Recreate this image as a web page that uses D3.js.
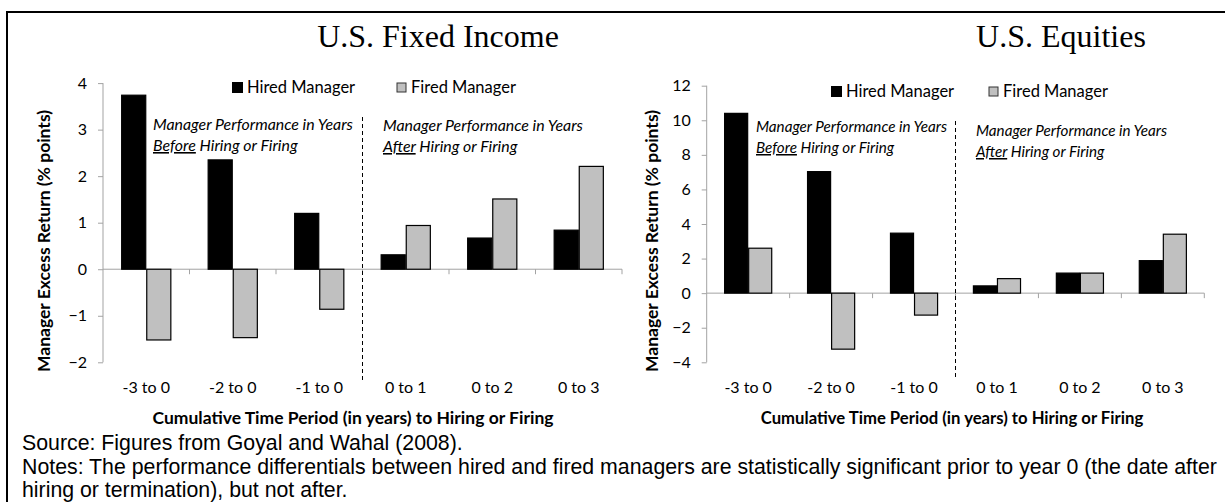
<!DOCTYPE html>
<meta charset="utf-8">
<style>
  body { margin: 0; background: #fff; }
  svg text { fill: #000; }
</style>
<svg width="1225" height="502"></svg>
<script src="https://d3js.org/d3.v7.min.js"></script>
<script>

    // values
    var categories = ["-3 to 0", "-2 to 0", "-1 to 0", "0 to 1", "0 to 2", "0 to 3"];
    var seriesNames = ["Hired Manager", "Fired Manager"];

    var fixedHired = [3.74, 2.35, 1.20, 0.31, 0.67, 0.84];
    var fixedFired = [-1.52, -1.47, -0.86, 0.94, 1.51, 2.21];
    var fixedTicks = [-2, -1, 0, 1, 2, 3, 4];

    var equityHired = [10.40, 7.03, 3.47, 0.42, 1.16, 1.88];
    var equityFired = [2.60, -3.24, -1.27, 0.84, 1.16, 3.41];
    var equityTicks = [-4, -2, 0, 2, 4, 6, 8, 10, 12];

    var noteLines = [
        "Source: Figures from Goyal and Wahal (2008).",
        "Notes: The performance differentials between hired and fired managers are statistically significant prior to year 0 (the date after",
        "hiring or termination), but not after."
    ];

    var svg = d3.select("svg");
    var sans = "Lato, 'Open Sans', sans-serif";
    var axisGray = "#a3a3a3";

    // outer frame, open on the right and bottom
    svg.append("path")
        .attr("d", "M7,503V12H1226")
        .attr("fill", "none")
        .attr("stroke", "#000")
        .attr("stroke-width", 2);

    function panel(o) {
        var x = d3.scaleBand()
            .domain(categories)
            .range([o.left, o.right])
            .paddingInner(0.42)
            .paddingOuter(0.21);

        var xs = d3.scaleBand()
            .domain(seriesNames)
            .range([0, x.bandwidth()]);

        var y = d3.scaleLinear()
            .domain(o.domain)
            .range([o.bottom, o.top]);

        var g = svg.append("g");

        // title
        g.append("text")
            .attr("x", o.titleX)
            .attr("y", 47)
            .attr("text-anchor", "middle")
            .style("font-family", "'Liberation Serif', 'Times New Roman', serif")
            .style("font-size", "32px")
            .text(o.title);

        // y axis
        var yAxis = d3.axisLeft(y).tickValues(o.ticks).tickSize(5).tickPadding(11).tickFormat(d3.format("d"));
        var ya = g.append("g")
            .attr("transform", "translate(" + o.left + ",0)")
            .call(yAxis);
        ya.select(".domain").attr("stroke", axisGray).attr("d", "M0," + o.bottom + "V" + o.top);
        ya.selectAll(".tick line").attr("stroke", axisGray);
        ya.selectAll(".tick text")
            .style("font-family", sans)
            .style("font-size", "16px")
            .attr("fill", "#000");

        // x axis at zero, ticks between categories
        var step = x.step();
        var bounds = d3.range(categories.length + 1).map(function (i) { return o.left + i * step; });
        g.append("line")
            .attr("x1", o.left).attr("x2", o.right)
            .attr("y1", y(0)).attr("y2", y(0))
            .attr("stroke", axisGray);
        g.selectAll(".xtick")
            .data(bounds.slice(1))
            .enter().append("line")
            .attr("x1", function (d) { return d; }).attr("x2", function (d) { return d; })
            .attr("y1", y(0)).attr("y2", y(0) + 5)
            .attr("stroke", axisGray);

        // category labels below the plot
        g.selectAll(".xlab")
            .data(categories)
            .enter().append("text")
            .attr("x", function (d) { return x(d) + x.bandwidth() / 2; })
            .attr("y", 393)
            .attr("text-anchor", "middle")
            .style("font-family", sans)
            .style("font-size", "16px")
            .text(function (d) { return d; });

        // bars
        var rows = categories.map(function (c, i) {
            return [
                {cat: c, name: seriesNames[0], v: o.hired[i]},
                {cat: c, name: seriesNames[1], v: o.fired[i]}
            ];
        });
        g.selectAll(".grp")
            .data(rows)
            .enter().append("g")
            .attr("transform", function (d) { return "translate(" + x(d[0].cat) + ",0)"; })
            .selectAll("rect")
            .data(function (d) { return d; })
            .enter().append("rect")
            .attr("x", function (d) { return xs(d.name) + 0.5; })
            .attr("y", function (d) { return Math.min(y(d.v), y(0)); })
            .attr("width", xs.bandwidth() - 1)
            .attr("height", function (d) { return Math.abs(y(d.v) - y(0)); })
            .attr("fill", function (d) { return d.name === seriesNames[0] ? "#000" : "#c0c0c0"; })
            .attr("stroke", "#000")
            .attr("stroke-width", 1.2);

        // before / after divider
        var divX = x(categories[3]) - x.step() * 0.21;
        g.append("line")
            .attr("x1", divX).attr("x2", divX)
            .attr("y1", o.divTop).attr("y2", 380)
            .attr("stroke", "#000")
            .attr("stroke-dasharray", "4,3");

        // annotations
        function note(nx, ny, word, size) {
            var t = g.append("text")
                .style("font-family", sans)
                .style("font-style", "italic")
                .style("font-size", size + "px");
            t.append("tspan").attr("x", nx).attr("y", ny).text("Manager Performance in Years");
            var l2 = t.append("tspan").attr("x", nx).attr("y", ny + 21);
            l2.append("tspan").style("text-decoration", "underline").text(word);
            l2.append("tspan").text(" Hiring or Firing");
        }
        note(o.noteX1, o.noteY1, "Before", o.noteSize);
        note(o.noteX2, o.noteY2, "After", o.noteSize);

        // legend
        seriesNames.forEach(function (s, i) {
            var lx = o.legendX[i];
            g.append("rect")
                .attr("x", lx).attr("y", o.legendY - 11)
                .attr("width", i === 0 ? 11 : 9).attr("height", i === 0 ? 11 : 9)
                .attr("transform", i === 0 ? null : "translate(1,1)")
                .attr("fill", i === 0 ? "#000" : "#c0c0c0")
                .attr("stroke", i === 0 ? "none" : "#333");
            g.append("text")
                .attr("x", lx + 15)
                .attr("y", o.legendY)
                .style("font-family", sans)
                .style("font-size", "16.5px")
                .text(s);
        });

        // axis titles
        g.append("text")
            .attr("transform", "translate(" + o.yLabelX + ",241) rotate(-90)")
            .attr("text-anchor", "middle")
            .style("font-family", sans)
            .style("font-weight", "bold")
            .style("font-size", "17.5px")
            .text("Manager  Excess  Return (% points)");

        g.append("text")
            .attr("x", o.xLabelX)
            .attr("y", 424)
            .attr("text-anchor", "middle")
            .style("font-family", sans)
            .style("font-weight", "bold")
            .style("font-size", o.xLabelSize + "px")
            .text("Cumulative Time Period  (in years)  to Hiring or Firing");
    }

    panel({
        title: "U.S. Fixed Income", titleX: 438,
        left: 103, right: 622, top: 83.1, bottom: 362.3,
        domain: [-2, 4], ticks: fixedTicks,
        hired: fixedHired, fired: fixedFired,
        divTop: 117,
        noteX1: 153, noteY1: 130, noteX2: 383, noteY2: 131, noteSize: 15.9,
        legendX: [232, 396], legendY: 93,
        yLabelX: 50, xLabelX: 353, xLabelSize: 17.5
    });

    panel({
        title: "U.S. Equities", titleX: 1061,
        left: 706.7, right: 1204.3, top: 85.7, bottom: 362.3,
        domain: [-4, 12], ticks: equityTicks,
        hired: equityHired, fired: equityFired,
        divTop: 121,
        noteX1: 756, noteY1: 132, noteX2: 976, noteY2: 136, noteSize: 15.2,
        legendX: [831, 988], legendY: 97,
        yLabelX: 658, xLabelX: 952, xLabelSize: 16.7
    });

    // source and notes
    svg.append("g").selectAll("text")
        .data(noteLines)
        .enter().append("text")
        .attr("x", 22)
        .attr("y", function (d, i) { return 450 + i * 23.5; })
        .style("font-family", "'Liberation Sans', Arial, sans-serif")
        .style("font-size", "21.3px")
        .text(function (d) { return d; });

</script>
